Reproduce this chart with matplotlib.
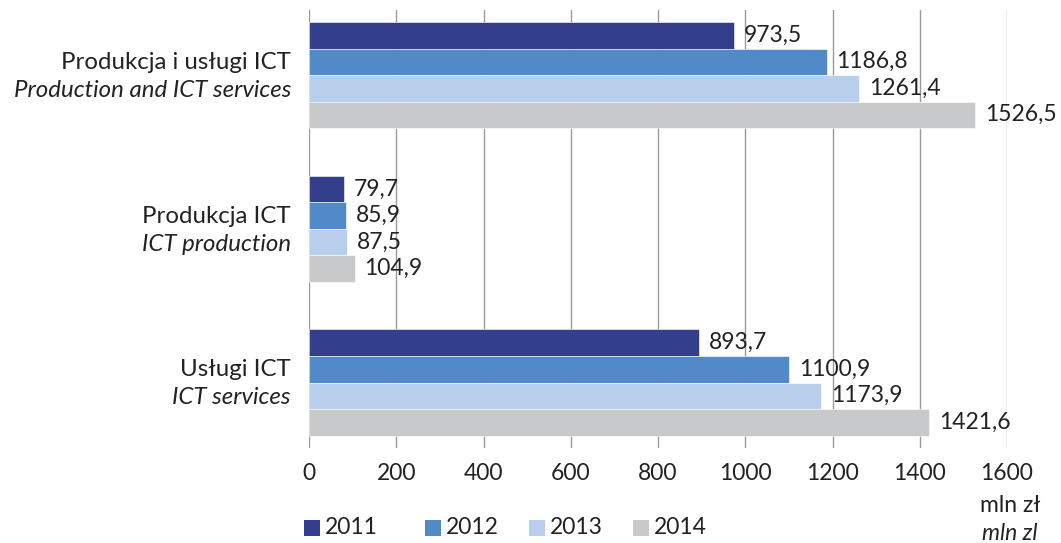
import matplotlib
matplotlib.use("Agg")
import matplotlib.pyplot as plt
from matplotlib.transforms import blended_transform_factory
from matplotlib.patches import Rectangle

categories_pl = ["Usługi ICT", "Produkcja ICT", "Produkcja i usługi ICT"]
categories_en = ["ICT services", "ICT production", "Production and ICT services"]
years = ["2011", "2012", "2013", "2014"]
v2011 = [893.7, 79.7, 973.5]
v2012 = [1100.9, 85.9, 1186.8]
v2013 = [1173.9, 87.5, 1261.4]
v2014 = [1421.6, 104.9, 1526.5]
series = [v2011, v2012, v2013, v2014]
colors = ["#333f8c", "#5289c8", "#b8cfeb", "#c8c9cb"]
xticks = [0, 200, 400, 600, 800, 1000, 1200, 1400, 1600]

plt.rcParams['font.family'] = ['Lato', 'DejaVu Sans']
TXT = '#222222'
W, H = 1061, 543
fig = plt.figure(figsize=(W/100, H/100), dpi=100)
ax = fig.add_axes([309/W, 1 - 448/H, (1007-309)/W, (448-10)/H])

h = 0.1725
for i, (vals, c) in enumerate(zip(series, colors)):
    offs = (1.5 - i) * h
    ys = [k + offs for k in range(len(vals))]
    ax.barh(ys, vals, height=h, color=c, edgecolor='white', linewidth=0.4, zorder=3)
    for y, v in zip(ys, vals):
        ax.annotate(f"{v:.1f}".replace(".", ","), xy=(v, y), xytext=(7, 0),
                    textcoords='offset points', va='center', ha='left',
                    fontsize=16.5, color=TXT, zorder=4)

ax.set_xlim(0, 1600)
ax.set_ylim(-0.426, 2.423)
ax.set_xticks(xticks)
ax.set_xticklabels([str(t) for t in xticks], fontsize=16.5, color=TXT)
ax.set_yticks([])
ax.tick_params(axis='x', length=0, pad=11)
ax.grid(axis='x', color='#9a9a9a', linewidth=1.0, zorder=0)
for s in ax.spines.values():
    s.set_visible(False)

tr = blended_transform_factory(fig.transFigure, ax.transData)
for k in range(len(categories_pl)):
    ax.text(291/W, k + 0.082, categories_pl[k], transform=tr, ha='right', va='center',
            fontsize=17.3, color=TXT)
    ax.text(291/W, k - 0.1, categories_en[k], transform=tr, ha='right', va='center',
            fontsize=17.3, style='italic', color=TXT)

fig.text(1010/W, 1 - 505/H, "mln zł", ha='center', va='center', fontsize=16.5, color=TXT)
fig.text(1010/W, 1 - 533/H, "mln zl", ha='center', va='center', fontsize=16.5,
         style='italic', color=TXT)

# legend (manual placement)
legend_x = [304, 425, 529, 633]
ly = 528
for x, yr, c in zip(legend_x, years, colors):
    fig.patches.append(Rectangle((x/W, 1 - (ly + 8)/H), 16/W, 16/H,
                                 transform=fig.transFigure, facecolor=c, edgecolor='none'))
    fig.text((x + 21)/W, 1 - ly/H, yr, ha='left', va='center', fontsize=16.5, color=TXT)

fig.savefig("out.png", dpi=100)
